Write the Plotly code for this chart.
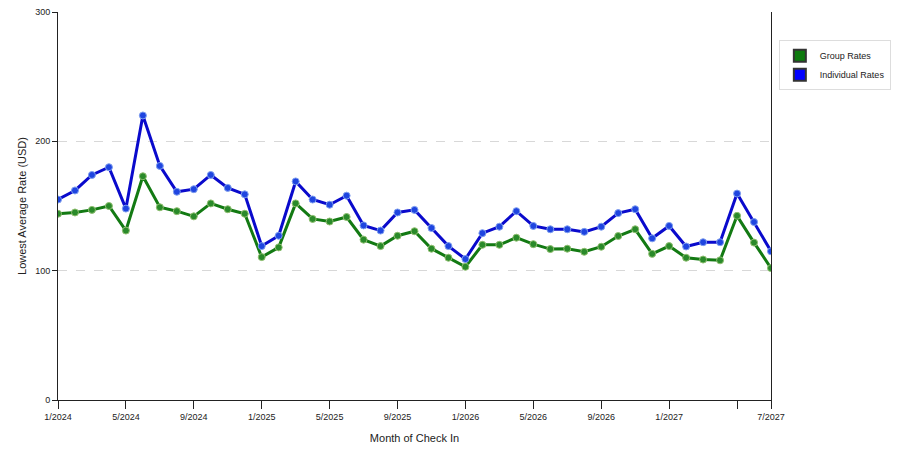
import plotly.graph_objects as go

# months from 1/2024 to 7/2027
months = [f"{m}/{y}" for y in range(2024, 2028) for m in range(1, 13)][:43]

group_rates = [144, 145, 147, 150, 131, 173, 149, 146, 142, 152, 147.5, 144,
               110.5, 118, 152, 140, 138, 141.5, 124, 119, 127, 130.5, 117, 110,
               103, 120, 120, 125.5, 120.5, 116.7, 117, 114.6, 118.5, 126.8, 132, 113,
               119, 110, 108.6, 108, 142.4, 121.7, 102]
individual_rates = [155, 162, 174, 180, 148, 220, 181, 161, 163, 174, 164, 159,
                    119, 127, 169, 155, 151, 158, 135, 131, 145, 147, 133, 119,
                    109, 129, 134, 146, 134.6, 132, 132, 130, 134, 144.5, 147.5, 125,
                    134.6, 118.7, 122, 122, 159.6, 137.6, 115]

tick_vals = months[::4] + ["7/2027"]
tick_text = [t if t != "5/2027" else "" for t in months[::4]] + ["7/2027"]

GREEN = "#137a13"
BLUE = "#0a0acc"

fig = go.Figure()
fig.add_trace(go.Scatter(
    x=months, y=group_rates, mode="lines+markers", showlegend=False,
    line=dict(color=GREEN, width=3),
    marker=dict(size=7, color="#2a8a2a", line=dict(color="#8fbf6f", width=1)),
))
fig.add_trace(go.Scatter(
    x=months, y=individual_rates, mode="lines+markers", showlegend=False,
    line=dict(color=BLUE, width=3),
    marker=dict(size=7, color="#1f45e0", line=dict(color="#7f9fef", width=1)),
))
# legend swatches
fig.add_trace(go.Scatter(x=[None], y=[None], mode="markers", name="Group Rates",
                         marker=dict(symbol="square", size=13, color="#0d7a0d",
                                     line=dict(color="#333333", width=1))))
fig.add_trace(go.Scatter(x=[None], y=[None], mode="markers", name="Individual Rates",
                         marker=dict(symbol="square", size=13, color="#0000ff",
                                     line=dict(color="#333333", width=1))))

# page body adds an 8px offset, so the figure is sized to 892x442
fig.update_layout(
    width=892, height=442,
    margin=dict(l=50, r=129, t=4, b=50),
    paper_bgcolor="white", plot_bgcolor="white",
    font=dict(family="Liberation Sans, Arial", size=9, color="#222222"),
    legend=dict(x=1.011, y=0.927, xanchor="left", yanchor="top",
                bordercolor="#dddddd", borderwidth=1, font=dict(size=9),
                itemsizing="constant", itemwidth=30, tracegroupgap=2),
)
fig.update_xaxes(
    type="category", range=[0, 42], tickmode="array",
    tickvals=tick_vals, ticktext=tick_text,
    ticks="outside", ticklen=8, tickcolor="#222222",
    showline=True, linecolor="#222222", linewidth=1,
    showgrid=False, zeroline=False, automargin=False,
    title=dict(text="Month of Check In", standoff=13),
)
fig.update_yaxes(
    range=[0, 300], tickvals=[0, 100, 200, 300],
    ticks="outside", ticklen=5, tickcolor="#222222",
    showline=True, linecolor="#222222", linewidth=1, mirror=True,
    showgrid=True, gridcolor="#d8d8d8", griddash="dash", zeroline=False,
    automargin=False, ticklabeloverflow="allow",
    title=dict(text="Lowest Average Rate (USD)", standoff=6),
)

fig.write_html("out.html")
